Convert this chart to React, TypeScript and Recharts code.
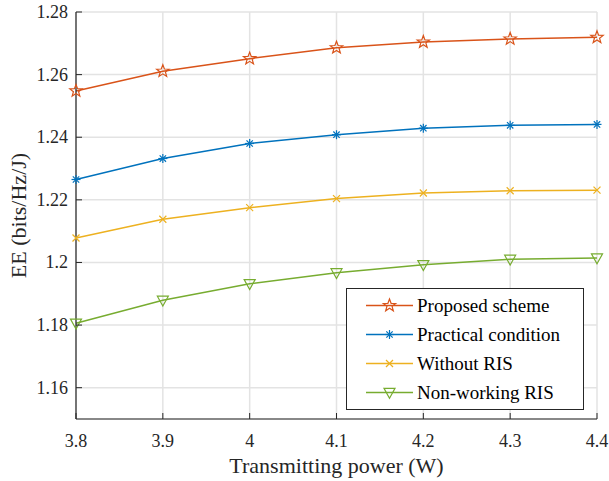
import React from "react"
import { LineChart, Line, XAxis, YAxis, CartesianGrid, Legend } from "recharts"

const power = [3.8, 3.9, 4.0, 4.1, 4.2, 4.3, 4.4]
const proposed = [1.2548, 1.2611, 1.2651, 1.2686, 1.2704, 1.2714, 1.2719]
const practical = [1.2265, 1.2332, 1.238, 1.2408, 1.2429, 1.2438, 1.2441]
const withoutRis = [1.2078, 1.2138, 1.2175, 1.2204, 1.2222, 1.2229, 1.2231]
const nonWorking = [1.1806, 1.1879, 1.1932, 1.1967, 1.1993, 1.201, 1.2014]

const xTicks = [3.8, 3.9, 4.0, 4.1, 4.2, 4.3, 4.4]
const yTicks = [1.16, 1.18, 1.2, 1.22, 1.24, 1.26, 1.28]

const data = power.map((p, i) => ({
  power: p,
  proposed: proposed[i],
  practical: practical[i],
  withoutRis: withoutRis[i],
  nonWorking: nonWorking[i],
}))

const font = "'Liberation Serif', 'Times New Roman', serif"
const axisColor = "#262626"
const colors = {
  proposed: "#D95319",
  practical: "#0072BD",
  withoutRis: "#EDB120",
  nonWorking: "#77AC30",
}

type Shape = "star" | "asterisk" | "cross" | "triangle"

function Marker({ cx, cy, shape, color }: { cx: number; cy: number; shape: Shape; color: string }) {
  if (cx == null || cy == null) return null
  if (shape === "star") {
    const pts: string[] = []
    for (let k = 0; k < 10; k++) {
      const r = k % 2 === 0 ? 6.5 : 2.7
      const a = -Math.PI / 2 + (k * Math.PI) / 5
      pts.push(`${cx + r * Math.cos(a)},${cy + r * Math.sin(a)}`)
    }
    return <polygon points={pts.join(" ")} fill="none" stroke={color} strokeWidth={1.2} />
  }
  if (shape === "asterisk") {
    const r = 4.5
    const d = r * 0.707
    return (
      <g stroke={color} strokeWidth={1.2}>
        <line x1={cx - r} y1={cy} x2={cx + r} y2={cy} />
        <line x1={cx} y1={cy - r} x2={cx} y2={cy + r} />
        <line x1={cx - d} y1={cy - d} x2={cx + d} y2={cy + d} />
        <line x1={cx - d} y1={cy + d} x2={cx + d} y2={cy - d} />
      </g>
    )
  }
  if (shape === "cross") {
    const d = 3.5
    return (
      <g stroke={color} strokeWidth={1.2}>
        <line x1={cx - d} y1={cy - d} x2={cx + d} y2={cy + d} />
        <line x1={cx - d} y1={cy + d} x2={cx + d} y2={cy - d} />
      </g>
    )
  }
  const h = 5.5
  return (
    <polygon
      points={`${cx - h},${cy - h * 0.75} ${cx + h},${cy - h * 0.75} ${cx},${cy + h * 1.05}`}
      fill="none"
      stroke={color}
      strokeWidth={1.2}
    />
  )
}

const makeDot = (shape: Shape, color: string) => (props: any) =>
  <Marker key={`${shape}-${props.index}`} cx={props.cx} cy={props.cy} shape={shape} color={color} />

const fmt = (v: number) => String(Math.round(v * 100) / 100)

const tickText = { fontFamily: font, fontSize: 18, fill: axisColor }

const BottomTick = (props: any) => {
  const { x, y, payload } = props
  return (
    <g>
      <line x1={x} y1={y} x2={x} y2={y - 6} stroke={axisColor} strokeWidth={1} />
      <text x={x} y={y + 28} textAnchor="middle" style={tickText}>
        {fmt(payload.value)}
      </text>
    </g>
  )
}

const TopTick = (props: any) => {
  const { x, y } = props
  return <line x1={x} y1={y} x2={x} y2={y + 6} stroke={axisColor} strokeWidth={1} />
}

const LeftTick = (props: any) => {
  const { x, y, payload } = props
  return (
    <g>
      <line x1={x} y1={y} x2={x + 6} y2={y} stroke={axisColor} strokeWidth={1} />
      <text x={x - 8} y={y + 6} textAnchor="end" style={tickText}>
        {fmt(payload.value)}
      </text>
    </g>
  )
}

const RightTick = (props: any) => {
  const { x, y } = props
  return <line x1={x} y1={y} x2={x - 6} y2={y} stroke={axisColor} strokeWidth={1} />
}

const legendItems: { label: string; shape: Shape; color: string }[] = [
  { label: "Proposed scheme", shape: "star", color: colors.proposed },
  { label: "Practical condition", shape: "asterisk", color: colors.practical },
  { label: "Without RIS", shape: "cross", color: colors.withoutRis },
  { label: "Non-working RIS", shape: "triangle", color: colors.nonWorking },
]

const LegendBox = () => (
  <svg width={238} height={122} style={{ display: "block" }}>
    <rect x={0.5} y={0.5} width={237} height={121} fill="#fff" stroke={axisColor} strokeWidth={1} />
    {legendItems.map((it, i) => {
      const cy = 17.5 + i * 29
      return (
        <g key={it.label}>
          <line x1={20} y1={cy} x2={67} y2={cy} stroke={it.color} strokeWidth={1.5} />
          <Marker cx={43.5} cy={cy} shape={it.shape} color={it.color} />
          <text x={71} y={cy + 6.5} style={{ fontFamily: font, fontSize: 19, fill: "#000" }}>
            {it.label}
          </text>
        </g>
      )
    })}
  </svg>
)

export default function App() {
  return (
    <div style={{ position: "absolute", left: 0, top: 0, width: 609, height: 481, background: "#fff" }}>
      <LineChart width={609} height={481} data={data} margin={{ top: 12, right: 12, left: 0, bottom: 0 }}>
        <CartesianGrid stroke="#e3e3e3" strokeWidth={1.5} />
        <XAxis
          dataKey="power"
          type="number"
          domain={[3.8, 4.4]}
          ticks={xTicks}
          height={62}
          stroke={axisColor}
          strokeWidth={1.2}
          tickLine={false}
          tickSize={0}
          tickMargin={0}
          tick={<BottomTick />}
          interval={0}
          label={{
            value: "Transmitting power (W)",
            position: "insideBottom",
            offset: 8,
            style: { fontFamily: font, fontSize: 22, fill: axisColor },
          }}
        />
        <XAxis
          xAxisId="top"
          orientation="top"
          dataKey="power"
          type="number"
          domain={[3.8, 4.4]}
          ticks={xTicks}
          height={0}
          stroke={axisColor}
          strokeWidth={1.2}
          tickLine={false}
          tickSize={0}
          tickMargin={0}
          tick={<TopTick />}
          interval={0}
        />
        <YAxis
          type="number"
          domain={[1.15, 1.28]}
          ticks={yTicks}
          width={76}
          stroke={axisColor}
          strokeWidth={1.2}
          tickLine={false}
          tickSize={0}
          tickMargin={0}
          tick={<LeftTick />}
          interval={0}
          label={{
            value: "EE (bits/Hz/J)",
            angle: -90,
            position: "insideLeft",
            offset: 18,
            style: { fontFamily: font, fontSize: 22, fill: axisColor, textAnchor: "middle" },
          }}
        />
        <YAxis
          yAxisId="right"
          orientation="right"
          type="number"
          domain={[1.15, 1.28]}
          ticks={yTicks}
          width={0}
          stroke={axisColor}
          strokeWidth={1.2}
          tickLine={false}
          tickSize={0}
          tickMargin={0}
          tick={<RightTick />}
          interval={0}
        />
        <Legend
          layout="vertical"
          align="center"
          verticalAlign="middle"
          wrapperStyle={{ left: 346, top: 288, width: 238, height: 122 }}
          content={() => <LegendBox />}
        />
        <Line dataKey="proposed" stroke={colors.proposed} strokeWidth={1.5} dot={makeDot("star", colors.proposed)} isAnimationActive={false} />
        <Line dataKey="practical" stroke={colors.practical} strokeWidth={1.5} dot={makeDot("asterisk", colors.practical)} isAnimationActive={false} />
        <Line dataKey="withoutRis" stroke={colors.withoutRis} strokeWidth={1.5} dot={makeDot("cross", colors.withoutRis)} isAnimationActive={false} />
        <Line dataKey="nonWorking" stroke={colors.nonWorking} strokeWidth={1.5} dot={makeDot("triangle", colors.nonWorking)} isAnimationActive={false} />
      </LineChart>
    </div>
  )
}
